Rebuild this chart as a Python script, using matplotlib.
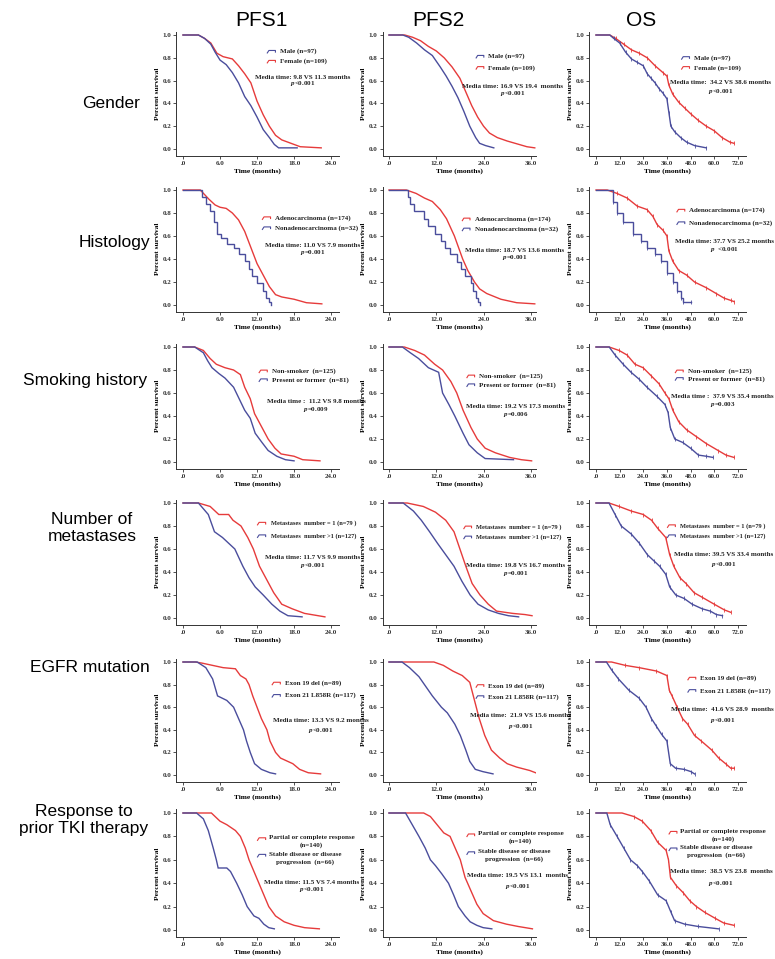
import matplotlib
matplotlib.use("Agg")
import matplotlib.pyplot as plt

SERIF = "Liberation Serif"
SANS = "Liberation Sans"
plt.rcParams['mathtext.fontset'] = 'custom'
plt.rcParams['mathtext.it'] = SERIF + ':italic:bold'
plt.rcParams['mathtext.rm'] = SERIF + ':bold'

RED = "#e63b3b"
BLUE = "#4a4d9c"

# ---------------- labels ----------------
col_titles = ["PFS1", "PFS2", "OS"]
row_labels = ["Gender", "Histology", "Smoking history", "Number of\nmetastases",
              "EGFR mutation", "Response to\nprior TKI therapy"]

x_ticks = [[0, 6, 12, 18, 24], [0, 12, 24, 36], [0, 12, 24, 36, 48, 60, 72]]
x_ticklabels = [[".0", "6.0", "12.0", "18.0", "24.0"],
                [".0", "12.0", "24.0", "36.0"],
                [".0", "12.0", "24.0", "36.0", "48.0", "60.0", "72.0"]]
y_ticks = [0.0, 0.2, 0.4, 0.6, 0.8, 1.0]
y_ticklabels = ["0.0", "0.2", "0.4", "0.6", "0.8", "1.0"]

legend_labels = [
    ("Female (n=109)", "Male (n=97)"),
    ("Adenocarcinoma (n=174)", "Nonadenocarcinoma (n=32)"),
    ("Non-smoker  (n=125)", "Present or former  (n=81)"),
    ("Metastases  number = 1 (n=79 )", "Metastases  number >1 (n=127)"),
    ("Exon 19 del (n=89)", "Exon 21 L858R (n=117)"),
    ("Partial or complete response\n(n=140)", "Stable disease or disease\nprogression  (n=66)"),
]
# order in which legend entries are listed (0 = red group, 1 = blue group)
legend_order = [(1, 0), (0, 1), (0, 1), (0, 1), (0, 1), (0, 1)]

media_text = [
    ["Media time: 9.8 VS 11.3 months", "Media time: 16.9 VS 19.4  months", "Media time:  34.2 VS 38.6 months"],
    ["Media time: 11.0 VS 7.9 months", "Media time: 18.7 VS 13.6 months", "Media time: 37.7 VS 25.2 months"],
    ["Media time :  11.2 VS 9.8 months", "Media time: 19.2 VS 17.3 months", "Media time :  37.9 VS 35.4 months"],
    ["Media time: 11.7 VS 9.9 months", "Media time: 19.8 VS 16.7 months", "Media time: 39.5 VS 33.4 months"],
    ["Media time: 13.3 VS 9.2 months", "Media time:  21.9 VS 15.6 months", "Media time:  41.6 VS 28.9  months"],
    ["Media time: 11.5 VS 7.4 months", "Media time: 19.5 VS 13.1  months", "Media time:  38.5 VS 23.8  months"],
]
p_text = [
    ["<0.001", "<0.001", "<0.001"],
    ["=0.001", "=0.001", "  <0.001"],
    ["=0.009", "=0.006", "=0.003"],
    ["<0.001", "=0.001", "<0.001"],
    ["<0.001", "<0.001", "<0.001"],
    ["<0.001", "<0.001", "<0.001"],
]

# ---------------- curve data: (time in months, survival) ----------------
# Gender
gender_pfs1_female = [(0,1),(2.5,1),(3.5,0.97),(4.5,0.93),(5.5,0.84),(6.5,0.81),(8.0,0.79),(9.0,0.73),(10.0,0.66),(11.0,0.58),(12.0,0.42),(13.0,0.30),(14.0,0.20),(15.0,0.12),(16.0,0.08),(17.5,0.05),(19,0.02),(22.4,0.01)]
gender_pfs1_male = [(0,1),(2.5,1),(3.5,0.97),(4.5,0.92),(5.2,0.85),(6,0.78),(7,0.74),(8,0.67),(9,0.58),(10,0.46),(11,0.38),(12,0.28),(13,0.17),(14,0.10),(14.8,0.04),(15.5,0.01),(18.5,0.01)]
gender_pfs2_female = [(0,1),(4,1),(6,0.98),(8,0.95),(10,0.9),(12,0.86),(14,0.8),(16,0.72),(18,0.62),(19.5,0.5),(21,0.38),(22.5,0.28),(24,0.2),(25.5,0.14),(27.5,0.1),(30,0.07),(33,0.04),(35,0.02),(37,0.01)]
gender_pfs2_male = [(0,1),(3.5,1),(5,0.98),(7,0.93),(9,0.87),(11,0.82),(13,0.72),(14.5,0.64),(16,0.55),(17.5,0.45),(19,0.33),(20.5,0.2),(22,0.1),(23,0.05),(24.5,0.03),(26.6,0.01)]
gender_os_female = [(0,1),(7,1),(10,0.97),(14,0.92),(18,0.87),(22,0.84),(26,0.8),(30,0.73),(34,0.67),(36,0.64),(37,0.56),(39,0.48),(42,0.41),(45,0.36),(48,0.31),(52,0.25),(56,0.2),(60,0.16),(64,0.1),(68,0.06),(70,0.05)]
gender_os_male = [(0,1),(7,1),(9,0.97),(12,0.93),(15,0.85),(18,0.79),(21,0.76),(24,0.73),(26,0.66),(28,0.62),(30,0.58),(32,0.53),(34,0.49),(36,0.44),(37,0.32),(38,0.2),(40,0.15),(43,0.1),(46,0.06),(50,0.03),(56,0.01)]

# Histology
hist_pfs1_adeno = [(0,1),(2.8,1),(3.5,0.96),(4.2,0.92),(5.2,0.87),(6,0.85),(7,0.84),(8,0.8),(9,0.74),(10,0.64),(11,0.5),(12,0.36),(13,0.26),(14,0.16),(15,0.09),(16,0.07),(18,0.05),(20,0.02),(22.5,0.01)]
hist_pfs1_nonadeno = [(0,1),(2.5,1),(3.1,0.94),(3.8,0.88),(4.3,0.82),(5.0,0.72),(5.5,0.62),(6.2,0.58),(7.2,0.53),(8.3,0.5),(9.0,0.44),(10.0,0.38),(10.7,0.31),(11.2,0.25),(12.0,0.19),(13.0,0.12),(13.5,0.06),(14.0,0.03),(14.3,0.0)]
hist_pfs2_adeno = [(0,1),(4.4,1),(6.9,0.97),(9,0.93),(11,0.9),(13,0.83),(14.6,0.75),(16.6,0.6),(18.7,0.4),(20,0.3),(21.7,0.2),(23,0.14),(24.8,0.1),(28.4,0.05),(32.4,0.02),(37,0.01)]
hist_pfs2_nonadeno = [(0,1),(4.1,1),(4.8,0.94),(5.4,0.88),(6.4,0.82),(9.0,0.75),(10,0.69),(11.8,0.62),(13.1,0.56),(14.1,0.5),(15.6,0.44),(17.3,0.37),(18.2,0.31),(19.2,0.25),(20.7,0.19),(21.4,0.12),(22.2,0.06),(22.6,0.03),(23,0.0)]
hist_os_adeno = [(0,1),(5.7,1),(10.7,0.97),(15.8,0.93),(20.9,0.86),(25.9,0.83),(28.9,0.77),(31,0.7),(34,0.65),(36,0.6),(37,0.47),(39,0.38),(42,0.3),(46,0.26),(50,0.2),(56,0.15),(61,0.1),(65,0.06),(68.4,0.04),(70,0.03)]
hist_os_nonadeno = [(0,1),(5.7,1),(8.7,0.9),(10.7,0.8),(13.8,0.72),(18.8,0.62),(22.9,0.56),(25.9,0.5),(30,0.44),(33,0.38),(36,0.28),(39,0.2),(41,0.12),(43,0.06),(44,0.03),(48.2,0.03)]

# Smoking history
smoke_pfs1_non = [(0,1),(1.9,1),(3.3,0.97),(4.4,0.9),(5.4,0.85),(6.8,0.82),(8.2,0.8),(9.3,0.76),(10,0.65),(10.9,0.55),(11.6,0.42),(12.8,0.3),(13.8,0.2),(14.9,0.12),(15.9,0.07),(18,0.05),(19.4,0.02),(22.2,0.01)]
smoke_pfs1_former = [(0,1),(1.9,1),(3.3,0.95),(4,0.88),(4.7,0.82),(5.8,0.77),(6.8,0.73),(8.2,0.65),(9.1,0.55),(10,0.45),(10.9,0.38),(11.7,0.25),(12.8,0.17),(13.8,0.1),(15.2,0.05),(16.6,0.02),(18,0.01)]
smoke_pfs2_non = [(0,1),(3.9,1),(6.5,0.97),(9,0.93),(11.6,0.85),(13.6,0.8),(15.7,0.7),(17.2,0.6),(18.8,0.45),(20.8,0.3),(22.4,0.2),(24.4,0.12),(27,0.08),(30.6,0.04),(33.6,0.02),(36.2,0.01)]
smoke_pfs2_former = [(0,1),(3.4,1),(5.4,0.95),(7.5,0.9),(10,0.82),(12.6,0.78),(13.6,0.6),(15.2,0.5),(16.7,0.4),(18.8,0.25),(20.3,0.15),(22.4,0.08),(24.4,0.03),(31.6,0.02)]
smoke_os_non = [(0,1),(6.7,1),(11.7,0.97),(15.8,0.93),(19.8,0.85),(23.9,0.82),(28,0.75),(32,0.68),(35,0.6),(37,0.55),(39,0.45),(42,0.35),(46,0.28),(51,0.22),(56,0.16),(62,0.1),(66,0.06),(70,0.04)]
smoke_os_former = [(0,1),(6.7,1),(9.7,0.93),(13.8,0.85),(17.8,0.78),(21.9,0.72),(25.9,0.65),(31,0.57),(35,0.5),(36.6,0.43),(37.7,0.3),(40,0.2),(44,0.17),(48,0.12),(52,0.06),(56,0.05),(59.3,0.04)]

# Number of metastases
meta_pfs1_one = [(0,1),(2.5,1),(4.4,0.97),(5.8,0.9),(7.4,0.9),(8.1,0.85),(9.4,0.8),(10.5,0.7),(11.4,0.6),(12.4,0.45),(13.4,0.35),(14.7,0.22),(16,0.12),(17.7,0.08),(19.7,0.04),(23,0.01)]
meta_pfs1_more = [(0,1),(2.5,1),(4.1,0.9),(5.1,0.75),(6.4,0.7),(8.4,0.6),(9.7,0.45),(10.7,0.35),(11.7,0.27),(13,0.2),(14.4,0.12),(15.7,0.06),(17,0.02),(19.3,0.01)]
meta_pfs2_one = [(0,1),(4.6,1),(8.7,0.97),(11.8,0.92),(14.4,0.85),(16.5,0.75),(18,0.6),(19.5,0.45),(21.1,0.3),(23.1,0.2),(25.2,0.12),(27.3,0.06),(31.4,0.04),(34.5,0.03),(36.3,0.02)]
meta_pfs2_more = [(0,1),(3.6,1),(6.2,0.93),(8.2,0.85),(10.3,0.75),(12.3,0.65),(14.4,0.55),(16.5,0.45),(18.5,0.32),(20.6,0.2),(22.6,0.12),(25.2,0.07),(27.8,0.04),(30.3,0.02),(32.9,0.01)]
meta_os_one = [(0,1),(6.6,1),(11.7,0.97),(17.9,0.93),(24,0.9),(28.2,0.85),(31.3,0.78),(35.4,0.7),(37.4,0.55),(39.5,0.45),(42.6,0.35),(45.7,0.3),(49.8,0.22),(53.9,0.18),(60,0.12),(65.2,0.07),(68.3,0.05)]
meta_os_more = [(0,1),(6.6,1),(9.7,0.9),(12.8,0.8),(17.9,0.73),(22,0.65),(26.1,0.55),(29.2,0.5),(32.3,0.45),(35.4,0.38),(37.4,0.27),(40.5,0.2),(44.7,0.17),(48.8,0.12),(53.9,0.08),(58,0.06),(61.1,0.03),(64.2,0.02)]

# EGFR mutation
egfr_pfs1_ex19 = [(0,1),(2,1),(3.1,0.99),(4.8,0.97),(6.5,0.95),(8.5,0.94),(9.3,0.88),(10.2,0.85),(10.7,0.8),(11.3,0.7),(12,0.6),(12.7,0.5),(13.6,0.4),(14.1,0.3),(15,0.2),(15.8,0.15),(17.8,0.1),(18.9,0.05),(20.3,0.02),(22.3,0.01)]
egfr_pfs1_ex21 = [(0,1),(2.3,1),(3.7,0.95),(4.8,0.85),(5.6,0.7),(7.1,0.66),(8.2,0.6),(9,0.5),(9.8,0.4),(10.3,0.3),(10.9,0.2),(11.6,0.1),(12.7,0.05),(14.1,0.02),(15,0.01)]
egfr_pfs2_ex19 = [(0,1),(11.4,1),(13.8,0.97),(16.2,0.92),(18.6,0.88),(20.5,0.82),(21.4,0.7),(22.9,0.5),(24.3,0.35),(26,0.22),(28.1,0.15),(30,0.1),(32.4,0.07),(35.7,0.04),(37.2,0.02)]
egfr_pfs2_ex21 = [(0,1),(3.3,1),(5.2,0.95),(7.6,0.87),(9,0.8),(11,0.7),(13.3,0.6),(14.8,0.55),(16.7,0.45),(18.1,0.35),(19.5,0.22),(20.5,0.12),(21.9,0.05),(23.8,0.03),(26.4,0.01)]
egfr_os_ex19 = [(0,1),(7.9,1),(14.9,0.97),(21.9,0.95),(30.7,0.92),(36,0.88),(37.2,0.75),(38.6,0.7),(41.2,0.6),(43.9,0.5),(46.5,0.45),(50,0.35),(53.5,0.3),(58.8,0.22),(62.3,0.15),(65.8,0.1),(68.4,0.06),(70.2,0.06)]
egfr_os_ex21 = [(0,1),(5.3,1),(7.9,0.93),(11.4,0.85),(16.7,0.75),(21.9,0.68),(25.4,0.6),(28.1,0.5),(30.7,0.43),(33.3,0.36),(36,0.3),(37.7,0.1),(40.4,0.06),(44.7,0.05),(48.2,0.03),(50,0.01)]

# Response to prior TKI therapy
resp_pfs1_pr = [(0,1),(4.6,1),(5.2,0.97),(6,0.93),(7.1,0.9),(8.5,0.85),(9.3,0.8),(10.1,0.7),(10.7,0.6),(11.5,0.5),(12.3,0.4),(13.1,0.3),(13.9,0.2),(15,0.12),(16.4,0.07),(18,0.04),(19.7,0.02),(22.1,0.01)]
resp_pfs1_sd = [(0,1),(2.2,1),(3.3,0.95),(4.1,0.85),(4.9,0.7),(5.4,0.6),(5.7,0.53),(7.1,0.53),(7.7,0.5),(8.7,0.4),(9.6,0.3),(10.4,0.2),(11.5,0.12),(12.3,0.1),(13.1,0.05),(13.9,0.02),(14.8,0.01)]
resp_pfs2_pr = [(0,1),(8.8,1),(10.5,0.97),(12.2,0.9),(13.9,0.83),(15.5,0.8),(16.8,0.7),(18.1,0.6),(19.3,0.45),(20.6,0.35),(22.3,0.22),(23.9,0.14),(26.5,0.08),(29.8,0.05),(32.8,0.03),(36.4,0.01)]
resp_pfs2_sd = [(0,1),(4.2,1),(5.9,0.9),(7.6,0.8),(9.2,0.7),(10.5,0.6),(11.8,0.55),(13.4,0.48),(15.1,0.4),(16.4,0.3),(17.6,0.2),(19.3,0.12),(20.6,0.07),(22.3,0.04),(23.9,0.02),(26.1,0.01)]
resp_os_pr = [(0,1),(13.2,1),(19.2,0.97),(23.5,0.93),(27.8,0.85),(31.3,0.75),(35.6,0.68),(36.8,0.6),(37.8,0.45),(40.7,0.38),(44.2,0.32),(47.6,0.25),(51,0.2),(55.3,0.15),(60.5,0.1),(64.8,0.06),(70,0.04)]
resp_os_sd = [(0,1),(5.5,1),(7.2,0.9),(10.7,0.8),(14.1,0.7),(17.5,0.6),(21,0.55),(23.5,0.5),(27,0.42),(31.3,0.3),(35.6,0.25),(38.1,0.15),(39.9,0.08),(45,0.05),(51.9,0.03),(62.2,0.01)]

curves = [
    [(gender_pfs1_female, gender_pfs1_male), (gender_pfs2_female, gender_pfs2_male), (gender_os_female, gender_os_male)],
    [(hist_pfs1_adeno, hist_pfs1_nonadeno), (hist_pfs2_adeno, hist_pfs2_nonadeno), (hist_os_adeno, hist_os_nonadeno)],
    [(smoke_pfs1_non, smoke_pfs1_former), (smoke_pfs2_non, smoke_pfs2_former), (smoke_os_non, smoke_os_former)],
    [(meta_pfs1_one, meta_pfs1_more), (meta_pfs2_one, meta_pfs2_more), (meta_os_one, meta_os_more)],
    [(egfr_pfs1_ex19, egfr_pfs1_ex21), (egfr_pfs2_ex19, egfr_pfs2_ex21), (egfr_os_ex19, egfr_os_ex21)],
    [(resp_pfs1_pr, resp_pfs1_sd), (resp_pfs2_pr, resp_pfs2_sd), (resp_os_pr, resp_os_sd)],
]
step_style = [[(False, False)] * 3, [(False, True)] * 3, [(False, False)] * 3,
              [(False, False)] * 3, [(False, False)] * 3, [(False, False)] * 3]

# ---------------- layout (pixels of the 775x959 figure) ----------------
W, H = 775, 959
col_axis_x = [176, 382.5, 589]      # x of y-axis spine
col_zero_x = [183, 389, 596]        # x of t=0
col_ppm = [6.17, 3.94, 1.97]        # pixels per month
col_right = [339, 536, 746]         # right end of x spine
row_y1 = [35, 190, 347, 503, 662, 813]   # y of survival 1.0
row_y0 = [149, 305, 462, 618, 775, 930]  # y of survival 0.0
YLO, YHI = -0.06, 1.03

# legend anchor (x of handle, y of first entry, y of second entry) in axes fraction
leg_pos = [
    [(0.56, 0.84, 0.76), (0.61, 0.80, 0.71), (0.59, 0.79, 0.71)],
    [(0.53, 0.75, 0.67), (0.52, 0.74, 0.66), (0.56, 0.81, 0.71)],
    [(0.51, 0.78, 0.71), (0.55, 0.74, 0.67), (0.55, 0.78, 0.72)],
    [(0.50, 0.81, 0.71), (0.53, 0.78, 0.70), (0.50, 0.79, 0.71)],
    [(0.59, 0.80, 0.70), (0.61, 0.78, 0.69), (0.63, 0.84, 0.74)],
    [(0.50, 0.77, 0.64), (0.55, 0.80, 0.66), (0.51, 0.82, 0.69)],
]
legend_fs = [5.0, 5.0, 5.0, 4.6, 5.0, 5.0]
# annotation (center x, y of media line, y of p line)
ann_pos = [
    [(0.78, 0.63, 0.58), (0.85, 0.56, 0.50), (0.84, 0.59, 0.52)],
    [(0.84, 0.53, 0.47), (0.86, 0.49, 0.43), (0.86, 0.56, 0.50)],
    [(0.86, 0.54, 0.47), (0.87, 0.50, 0.43), (0.85, 0.58, 0.51)],
    [(0.84, 0.54, 0.47), (0.87, 0.47, 0.41), (0.86, 0.56, 0.48)],
    [(0.89, 0.50, 0.42), (0.90, 0.54, 0.45), (0.85, 0.59, 0.50)],
    [(0.83, 0.43, 0.37), (0.88, 0.48, 0.40), (0.84, 0.51, 0.42)],
]

fig = plt.figure(figsize=(W / 100, H / 100), dpi=100)

TICK_FS = 5.0
TXT_FS = 5.0
TEXT_C = "#222222"

for r in range(6):
    unit = row_y0[r] - row_y1[r]
    top_px = row_y1[r] - (YHI - 1.0) * unit
    bot_px = row_y0[r] - YLO * unit
    for c in range(3):
        left_px = col_axis_x[c]
        right_px = col_right[c]
        ax = fig.add_axes([left_px / W, 1 - bot_px / H,
                           (right_px - left_px) / W, (bot_px - top_px) / H])
        xmin = -(col_zero_x[c] - col_axis_x[c]) / col_ppm[c]
        xmax = (col_right[c] - col_zero_x[c]) / col_ppm[c]
        ax.set_xlim(xmin, xmax)
        ax.set_ylim(YLO, YHI)
        for s in ("top", "right"):
            ax.spines[s].set_visible(False)
        for s in ("left", "bottom"):
            ax.spines[s].set_linewidth(0.7)
            ax.spines[s].set_color("#333333")
        ax.set_xticks(x_ticks[c])
        ax.set_xticklabels(x_ticklabels[c], fontsize=TICK_FS, family=SERIF, fontweight="bold")
        ax.set_yticks(y_ticks)
        ax.set_yticklabels(y_ticklabels, fontsize=TICK_FS, family=SERIF, fontweight="bold")
        ax.tick_params(length=2, width=0.6, pad=1.5, colors="#333333")
        ax.set_xlabel("Time (months)", fontsize=5.4, family=SERIF, fontweight="bold", labelpad=2)
        ax.set_ylabel("Percent survival", fontsize=5.4, family=SERIF, fontweight="bold", labelpad=2)
        ax.patch.set_alpha(0)

        red_curve, blue_curve = curves[r][c]
        red_step, blue_step = step_style[r][c]
        for data, col, st in ((red_curve, RED, red_step), (blue_curve, BLUE, blue_step)):
            t = [p[0] for p in data]
            s = [p[1] for p in data]
            ax.plot(t, s, color=col, lw=1.0, drawstyle="steps-post" if st else "default",
                    solid_joinstyle="miter")
            if c == 2:
                ax.plot(t[2:], s[2:], ls="none", marker="|", ms=2.2, mew=0.6, color=col)

        # legend
        lx, ly1, ly2 = leg_pos[r][c]
        order = legend_order[r]
        lfs = legend_fs[r]
        for k, yy in zip(order, (ly1, ly2)):
            col = RED if k == 0 else BLUE
            ax.plot([lx, lx + 0.01, lx + 0.05, lx + 0.05],
                    [yy - 0.012, yy + 0.008, yy + 0.008, yy - 0.005],
                    transform=ax.transAxes, color=col, lw=0.8, clip_on=False)
            lab = legend_labels[r][k]
            if "\n" in lab:
                ax.text(lx + 0.07, yy + 0.03, lab, transform=ax.transAxes, fontsize=lfs,
                        family=SERIF, fontweight="bold", ha="left", va="top",
                        multialignment="center", linespacing=1.5, color=TEXT_C)
            else:
                ax.text(lx + 0.08, yy, lab, transform=ax.transAxes, fontsize=lfs,
                        family=SERIF, fontweight="bold", ha="left", va="center", color=TEXT_C)

        ax_x, ay1, ay2 = ann_pos[r][c]
        ax.text(ax_x, ay1, media_text[r][c], transform=ax.transAxes, fontsize=TXT_FS,
                family=SERIF, fontweight="bold", ha="center", va="center", color=TEXT_C,
                clip_on=False)
        ax.text(ax_x, ay2, "$p$" + p_text[r][c], transform=ax.transAxes, fontsize=TXT_FS,
                family=SERIF, fontweight="bold", ha="center", va="center", color=TEXT_C,
                clip_on=False)

# column titles
title_x = [261, 438, 641]
for c in range(3):
    fig.text(title_x[c] / W, 1 - 20 / H, col_titles[c], fontsize=15, family=SANS,
             ha="center", va="center")

# row labels
label_x = [111, 114, 85, 92, 90, 84]
label_y = [103, 243, 380, 528, 667, 820]
for r in range(6):
    fig.text(label_x[r] / W, 1 - label_y[r] / H, row_labels[r], fontsize=12.5, family=SANS,
             ha="center", va="center", linespacing=1.15)

fig.savefig("out.png", dpi=100)
